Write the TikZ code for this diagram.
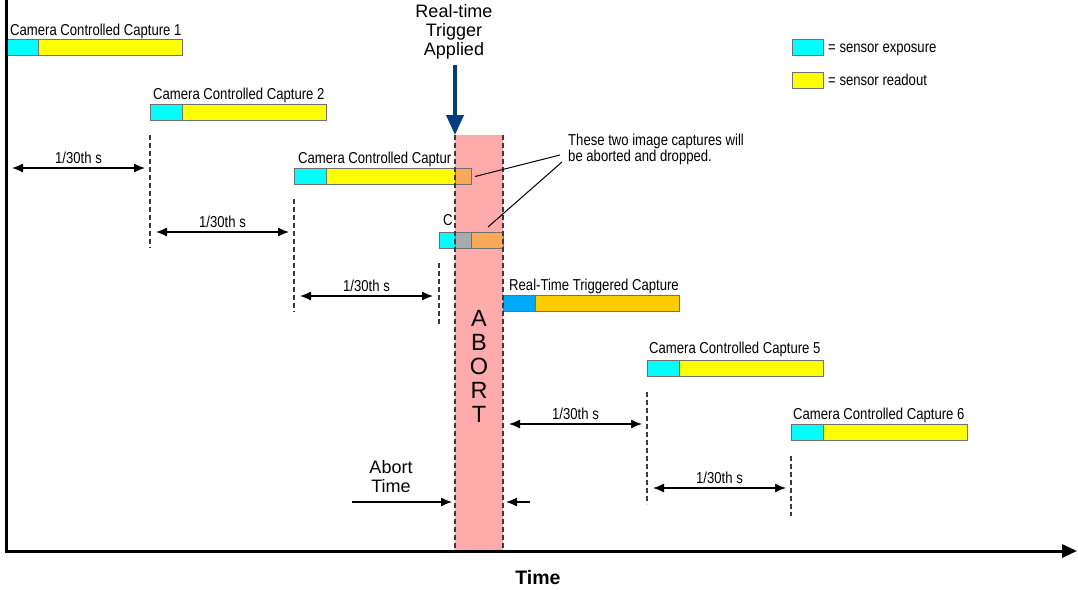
\documentclass[tikz,border=0pt]{standalone}
\usepackage{fontspec}
\setmainfont{Liberation Sans}
\newfontfamily\narrowsans[FakeStretch=0.83]{Liberation Sans}
\usetikzlibrary{arrows.meta}

\definecolor{expo}{HTML}{00FFFF}
\definecolor{readout}{HTML}{FFFF00}
\definecolor{dropped}{HTML}{FAA85A}
\definecolor{stalled}{HTML}{A6ACAC}
\definecolor{rtexpo}{HTML}{00AAF8}
\definecolor{rtread}{HTML}{FFCC00}
\definecolor{band}{HTML}{FFABAB}
\definecolor{barline}{HTML}{707070}
\definecolor{guidegray}{HTML}{3A3A3A}
\definecolor{trigger}{HTML}{003E80}

\begin{document}
\begin{tikzpicture}[x=1pt,y=-1pt,
  seg/.style={draw=barline, line width=0.8pt, minimum height=16pt,
    inner sep=0pt, outer sep=0pt, anchor=west},
  small/.style={font=\narrowsans\fontsize{15.8}{16}\selectfont, inner sep=0pt},
  lbl/.style={small, anchor=base west},
  dimlbl/.style={small, anchor=base, yshift=5pt},
  dimline/.style={{Latex[length=11pt,width=9pt]}-{Latex[length=11pt,width=9pt]}, line width=1.3pt},
  onearrow/.style={-{Latex[length=11pt,width=9pt]}, line width=1.3pt},
  guide/.style={draw=guidegray, line width=1.3pt, dash pattern=on 5pt off 3pt},
  axis/.style={line width=3pt, line join=miter},
  big/.style={font=\fontsize{18}{18.7}\selectfont, inner sep=0pt, align=center},
]
\path[use as bounding box] (0,0) rectangle (1078,589);

% abort window
\node[fill=band, minimum width=48pt, minimum height=416pt, inner sep=0pt,
  outer sep=0pt, anchor=north west] (abort) at (455,135) {};
\node[font=\fontsize{23.5}{24}\selectfont, inner sep=0pt, align=center]
  (abortword) at (abort.center |- 0,366.5) {A\\B\\O\\R\\T};

% capture 1
\node[seg, fill=expo, minimum width=32pt] (c1e) at (6,47) {};
\node[seg, fill=readout, minimum width=144pt] (c1r) at (c1e.east) {};
\node[lbl] (c1l) at ([xshift=4pt,yshift=4pt]c1e.north west) {Camera Controlled Capture 1};
% capture 2
\node[seg, fill=expo, minimum width=32pt] (c2e) at (150,112) {};
\node[seg, fill=readout, minimum width=144pt] (c2r) at (c2e.east) {};
\node[lbl] (c2l) at ([xshift=3pt,yshift=5pt]c2e.north west) {Camera Controlled Capture 2};
% capture 3 (aborted during readout)
\node[seg, fill=expo, minimum width=32pt] (c3e) at (294,176) {};
\node[seg, fill=readout, minimum width=129pt] (c3r) at (c3e.east) {};
\node[seg, fill=dropped, minimum width=16pt] (c3d) at (c3r.east) {};
\node[lbl] (c3l) at ([xshift=4pt,yshift=5pt]c3e.north west) {Camera Controlled Captur};
% capture 4 (aborted during exposure)
\node[seg, fill=expo, minimum width=16pt] (c4e) at (439,240) {};
\node[seg, fill=stalled, minimum width=16pt] (c4s) at (c4e.east) {};
\node[seg, fill=dropped, minimum width=32pt] (c4d) at (c4s.east) {};
\node[lbl] (c4l) at ([xshift=4pt,yshift=7pt]c4e.north west) {C};
% real-time triggered capture
\node[seg, fill=rtexpo, minimum width=32pt] (rte) at (503,303) {};
\node[seg, fill=rtread, minimum width=144pt] (rtr) at (rte.east) {};
\node[lbl] (rtl) at ([xshift=6pt,yshift=5pt]rte.north west) {Real-Time Triggered Capture};
% capture 5
\node[seg, fill=expo, minimum width=32pt] (c5e) at (647,368) {};
\node[seg, fill=readout, minimum width=144pt] (c5r) at (c5e.east) {};
\node[lbl] (c5l) at ([xshift=2pt,yshift=7pt]c5e.north west) {Camera Controlled Capture 5};
% capture 6
\node[seg, fill=expo, minimum width=32pt] (c6e) at (791,432) {};
\node[seg, fill=readout, minimum width=144pt] (c6r) at (c6e.east) {};
\node[lbl] (c6l) at ([xshift=2pt,yshift=5pt]c6e.north west) {Camera Controlled Capture 6};

% legend
\node[seg, fill=expo, minimum width=31pt] (lege) at (792,47) {};
\node[lbl] (legetxt) at ([xshift=5pt]lege.east |- 0,52) {= sensor exposure};
\node[seg, fill=readout, minimum width=31pt] (legr) at (792,80) {};
\node[lbl] (legrtxt) at ([xshift=5pt]legr.east |- 0,85) {= sensor readout};

% frame start markers
\draw[guide] (150,135) coordinate (g2t) -- (150,248) coordinate (g2b);
\draw[guide] (294,199) coordinate (g3t) -- (294,312) coordinate (g3b);
\draw[guide] (439,263) coordinate (g4t) -- (439,324) coordinate (g4b);
\draw[guide] (647,392) coordinate (g5t) -- (647,504) coordinate (g5b);
\draw[guide] (791,456) coordinate (g6t) -- (791,516) coordinate (g6b);
\draw[guide] (abort.north west) -- (abort.south west);
\draw[guide] (abort.north east) -- (abort.south east);

% frame period dimensions
\coordinate (p1a) at (12,168);   \coordinate (p1b) at (145,168);
\coordinate (p2a) at (156,232);  \coordinate (p2b) at (289,232);
\coordinate (p3a) at (300,296);  \coordinate (p3b) at (433,296);
\coordinate (p4a) at (509,424);  \coordinate (p4b) at (642,424);
\coordinate (p5a) at (653,488);  \coordinate (p5b) at (786,488);
\draw[dimline] (p1a) -- node[dimlbl] (d1) {1/30th s} (p1b);
\draw[dimline] (p2a) -- node[dimlbl] (d2) {1/30th s} (p2b);
\draw[dimline] (p3a) -- node[dimlbl] (d3) {1/30th s} (p3b);
\draw[dimline] (p4a) -- node[dimlbl] (d4) {1/30th s} (p4b);
\draw[dimline] (p5a) -- node[dimlbl] (d5) {1/30th s} (p5b);

% abort time
\node[big] (aborttime) at (391,476.5) {Abort\\Time};
\coordinate (atl) at (352,502);
\coordinate (atr) at (530,502);
\draw[onearrow] (atl) -- ([xshift=-3pt]abort.west |- atl);
\draw[onearrow] (atr) -- ([xshift=3pt]abort.east |- atr);

% callout
\node[small, align=left, anchor=north west] (note) at (568,134)
  {These two image captures will\\be aborted and dropped.};
\coordinate (n1) at (560,155);
\coordinate (n2) at (562,162);
\draw[line width=1pt] (n1) -- ([xshift=4pt,yshift=-0.5pt]c3d.east);
\draw[line width=1pt] (n2) -- (488,227) coordinate (n2e);

% trigger
\node[big] (trig) at (454,32) {Real-time\\Trigger\\Applied};
\draw[draw=trigger, line width=4pt, -{Triangle[length=20pt,width=17pt]}]
  (455,65) -- (abort.north west);

% axes
\draw[axis, -{Triangle[length=15pt,width=13pt]}] (6,0) coordinate (ytop)
  -- (6,551) coordinate (origin) -- (1077,551) coordinate (xend);
\node[font=\bfseries\fontsize{19.5}{20}\selectfont, inner sep=0pt, anchor=base]
  (timelbl) at (538,584) {Time};
\end{tikzpicture}
\end{document}
